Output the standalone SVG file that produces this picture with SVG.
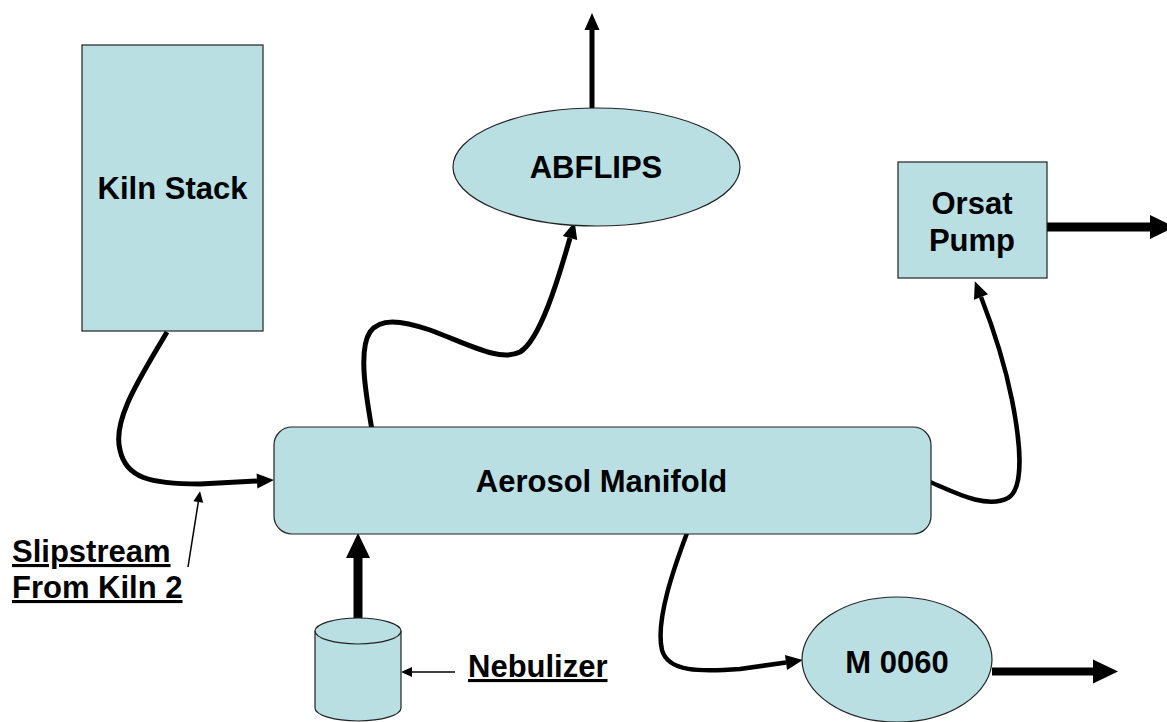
<svg xmlns="http://www.w3.org/2000/svg" width="1167" height="722" viewBox="0 0 1167 722">
<style>
.box{fill:#B9DFE3;stroke:#222;stroke-width:1.2}
.lbl{font-family:"Liberation Sans",Arial,sans-serif;font-weight:bold;font-size:31px;fill:#000}
.c{text-anchor:middle}
.u{text-decoration:underline}
.flow{fill:none;stroke:#000;stroke-linecap:butt}
</style>
<defs>
<marker id="big" markerUnits="userSpaceOnUse" markerWidth="30" markerHeight="30" refX="0" refY="12" orient="auto" overflow="visible"><path d="M0,0 L25,12 L0,24 Z" fill="#000"/></marker>
<marker id="mid" markerUnits="userSpaceOnUse" markerWidth="20" markerHeight="20" refX="0" refY="7.5" orient="auto" overflow="visible"><path d="M0,0 L17,7.5 L0,15 Z" fill="#000"/></marker>
<marker id="small" markerUnits="userSpaceOnUse" markerWidth="14" markerHeight="12" refX="0" refY="5" orient="auto" overflow="visible"><path d="M0,0 L11,5 L0,10 Z" fill="#000"/></marker>
</defs>
<rect width="1167" height="722" fill="#fff"/>
<g id="connectors">
<path class="flow" d="M167,332 C140,378 112,420 120,450 C126,478 150,484 200,484 L257,481" stroke-width="5" marker-end="url(#mid)"/>
<path class="flow" d="M372,430 C366,395 358,350 370,332 C380,318 400,320 430,330 C470,345 500,362 520,352 C540,340 558,280 570,238" stroke-width="5" marker-end="url(#mid)"/>
<path class="flow" d="M592,108 L592,30" stroke-width="5" marker-end="url(#mid)"/>
<path class="flow" d="M358,628 L358,558" stroke-width="9" marker-end="url(#big)"/>
<path class="flow" d="M687,533 C675,565 655,620 662,650 C668,672 700,672 740,669 L786,662.5" stroke-width="4.5" marker-end="url(#mid)"/>
<path class="flow" d="M992,671.5 L1093,671.5" stroke-width="8" marker-end="url(#big)"/>
<path class="flow" d="M930,482 C950,490 985,510 1008,498 C1025,488 1020,440 1012,400 C1004,360 990,320 981,297" stroke-width="4.5" marker-end="url(#mid)"/>
<path class="flow" d="M1047,227 L1150,227" stroke-width="9" marker-end="url(#big)"/>
<path class="flow" d="M188,567 L198.3,502" stroke-width="1.5" marker-end="url(#small)"/>
<path class="flow" d="M455,672 L412,672" stroke-width="1.5" marker-end="url(#small)"/>
</g>
<g id="kiln-stack">
<rect class="box" x="82" y="45" width="181" height="286"/>
<text class="lbl c" x="172.5" y="199">Kiln Stack</text>
</g>
<g id="abflips">
<ellipse class="box" cx="596.5" cy="167" rx="143.5" ry="59"/>
<text class="lbl c" x="596" y="178">ABFLIPS</text>
</g>
<g id="orsat-pump">
<rect class="box" x="898" y="162" width="149" height="116"/>
<text class="lbl c" x="972" y="214">Orsat</text>
<text class="lbl c" x="972" y="251">Pump</text>
</g>
<g id="aerosol-manifold">
<rect class="box" x="274" y="427" width="657" height="107" rx="18" ry="18"/>
<text class="lbl c" x="601.5" y="492">Aerosol Manifold</text>
</g>
<g id="nebulizer">
<path class="box" d="M315,631 L315,708 A43,13 0 0 0 401,708 L401,631 Z"/>
<ellipse class="box" cx="358" cy="631" rx="43" ry="13"/>
</g>
<g id="m0060">
<ellipse class="box" cx="897" cy="659.5" rx="95" ry="62.5"/>
<text class="lbl c" x="897" y="673">M 0060</text>
</g>
<g id="labels">
<text class="lbl u" x="12" y="562">Slipstream</text>
<text class="lbl u" x="12" y="598">From Kiln 2</text>
<text class="lbl u" x="468" y="677">Nebulizer</text>
</g>
</svg>
